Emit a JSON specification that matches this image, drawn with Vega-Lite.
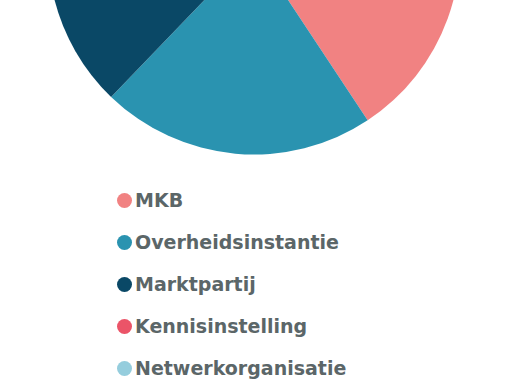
{
  "$schema": "https://vega.github.io/schema/vega-lite/v6.json",
  "autosize": "none",
  "width": 508,
  "height": 389,
  "padding": {"top": -246, "left": 0, "right": 2, "bottom": 246},
  "background": "white",
  "data": {"values": [
    {"categorie": "MKB", "aandeel": 40.7, "o": 1},
    {"categorie": "Overheidsinstantie", "aandeel": 21.5, "o": 2},
    {"categorie": "Marktpartij", "aandeel": 18, "o": 3},
    {"categorie": "Kennisinstelling", "aandeel": 12, "o": 4},
    {"categorie": "Netwerkorganisatie", "aandeel": 7.8, "o": 5}
  ]},
  "mark": {"type": "arc", "radius": 206},
  "encoding": {
    "theta": {"field": "aandeel", "type": "quantitative", "stack": true},
    "order": {"field": "o", "type": "quantitative"},
    "color": {
      "field": "categorie",
      "type": "nominal",
      "sort": null,
      "scale": {
        "domain": ["MKB", "Overheidsinstantie", "Marktpartij", "Kennisinstelling", "Netwerkorganisatie"],
        "range": ["#F18282", "#2A93B0", "#0A4866", "#EB5468", "#95CDDD"]
      },
      "legend": {
        "title": null,
        "orient": "none",
        "legendX": 115,
        "legendY": 437,
        "symbolType": "circle",
        "symbolSize": 225,
        "symbolStrokeWidth": 0,
        "labelFont": "DejaVu Sans",
        "labelFontSize": 19,
        "labelFontWeight": "bold",
        "labelColor": "#5B6668",
        "labelOffset": 1,
        "labelLimit": 400,
        "rowPadding": 22
      }
    }
  }
}
